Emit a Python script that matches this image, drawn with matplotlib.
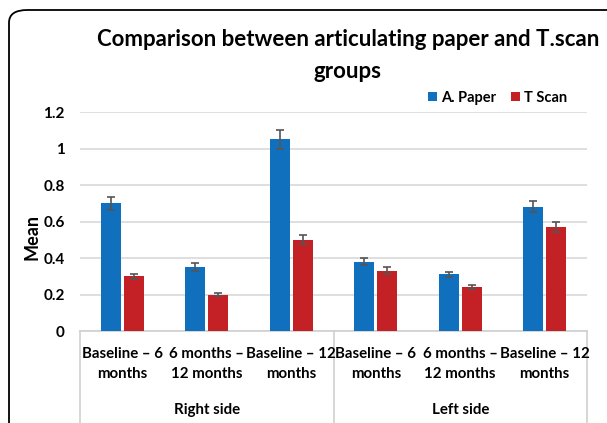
import numpy as np
import matplotlib
matplotlib.use("Agg")
import matplotlib.pyplot as plt
import matplotlib.transforms as mtransforms
from matplotlib.patches import FancyBboxPatch

# ─────────── 데이터 ───────────
periods = ["Baseline – 6\nmonths", "6 months –\n12 months", "Baseline – 12\nmonths",
           "Baseline – 6\nmonths", "6 months –\n12 months", "Baseline – 12\nmonths"]
sides = ["Right side", "Left side"]
paper_mean = [0.70, 0.35, 1.05, 0.38, 0.31, 0.68]
paper_err = [0.035, 0.02, 0.05, 0.02, 0.015, 0.03]
tscan_mean = [0.30, 0.20, 0.50, 0.33, 0.24, 0.57]
tscan_err = [0.015, 0.01, 0.025, 0.02, 0.01, 0.025]
yticks = [0, 0.2, 0.4, 0.6, 0.8, 1, 1.2]
ytick_labels = ["0", "0.2", "0.4", "0.6", "0.8", "1", "1.2"]

BLUE = "#1170BD"
RED = "#C42127"

plt.rcParams["font.family"] = ["Lato", "DejaVu Sans"]
plt.rcParams["font.weight"] = "bold"

W, H = 607, 423
fig = plt.figure(figsize=(W / 100, H / 100), dpi=100)

# 바깥 둥근 테두리
frame = FancyBboxPatch((9 / W, -0.05), 1.2, 1.05 - 10 / H,
                       boxstyle="round,pad=0,rounding_size=0.03",
                       transform=fig.transFigure, facecolor="none",
                       edgecolor="black", linewidth=1.3)
fig.patches.append(frame)

ax = fig.add_axes([80 / W, 92 / H, 507 / W, 219 / H])
x = np.arange(len(periods))
bw = 0.24
gap = 0.03
ekw = dict(ecolor="#555555", capsize=3, elinewidth=1.2, capthick=1.2)
ax.bar(x - bw / 2 - gap / 2, paper_mean, bw, color=BLUE, zorder=3, label="A. Paper",
       yerr=paper_err, error_kw=ekw)
ax.bar(x + bw / 2 + gap / 2, tscan_mean, bw, color=RED, zorder=3, label="T Scan",
       yerr=tscan_err, error_kw=ekw)

ax.set_xlim(-0.5, len(periods) - 0.5)
ax.set_ylim(0, 1.2)
ax.set_yticks(yticks)
ax.set_yticklabels(ytick_labels, fontsize=11, fontweight="bold")
ax.tick_params(axis="y", length=0, pad=11)
ax.set_xticks([])
ax.grid(axis="y", color="#D9D9D9", linewidth=1.2, zorder=0)
for s in ["top", "right", "left"]:
    ax.spines[s].set_visible(False)
ax.spines["bottom"].set_color("#D0D0D0")
ax.spines["bottom"].set_linewidth(1.2)
ax.set_ylabel("Mean", fontsize=13, fontweight="bold")
ax.yaxis.set_label_coords(-0.078, 0.43)

# 다단 카테고리 축
trans = mtransforms.blended_transform_factory(ax.transData, ax.transAxes)
for xv in [-0.5, 2.5, 5.5]:
    ax.plot([xv, xv], [0, -0.6], color="#D0D0D0", linewidth=1.2,
            transform=trans, clip_on=False)
for i, lab in enumerate(periods):
    ax.text(i, -0.072, lab, transform=trans, ha="center", va="top",
            fontsize=10.8, fontweight="bold", linespacing=1.6)
for j, lab in enumerate(sides):
    ax.text(1 + 3 * j, -0.33, lab, transform=trans, ha="center", va="top",
            fontsize=10.8, fontweight="bold")

ax.legend(loc="lower right", bbox_to_anchor=(0.975, 1.0), ncol=2, frameon=False,
          fontsize=10.5, handlelength=0.6, handleheight=0.6, handletextpad=0.3,
          columnspacing=1.0, borderaxespad=0.1)

fig.text(348 / W, 1 - 40 / H, "Comparison between articulating paper and T.scan",
         ha="center", va="center", fontsize=16, fontweight="bold")
fig.text(348 / W, 1 - 72 / H, "groups",
         ha="center", va="center", fontsize=16, fontweight="bold")

fig.savefig("out.png", dpi=100)
